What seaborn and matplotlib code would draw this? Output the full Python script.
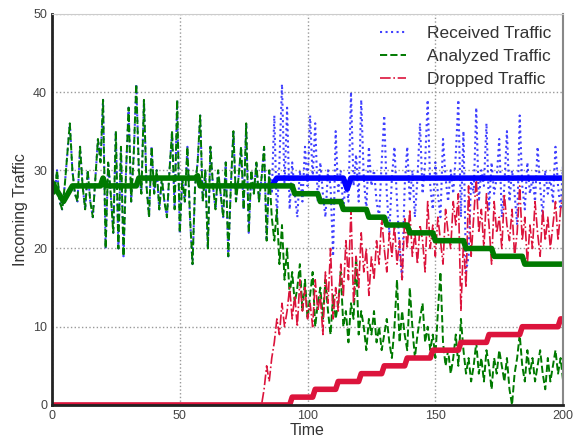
import numpy as np
import pandas as pd
import seaborn as sns
import matplotlib
matplotlib.use("Agg")
import matplotlib.pyplot as plt

# traffic samples, one per time unit (t = 0..200)
received = [29, 27, 30, 26, 25, 28, 32, 36, 30, 27,
            26, 33, 28, 25, 30, 26, 24, 29, 34, 31,
            39, 20, 31, 27, 22, 35, 20, 33, 19, 30,
            38, 26, 32, 41, 30, 27, 39, 28, 24, 33,
            27, 30, 25, 29, 26, 24, 30, 35, 25, 39,
            22, 29, 26, 33, 24, 18, 28, 31, 37, 26,
            30, 20, 33, 28, 25, 30, 27, 24, 31, 19,
            28, 35, 26, 29, 33, 25, 36, 22, 30, 27,
            31, 26, 29, 33, 21, 30, 27, 37, 24, 31,
            41, 28, 38, 25, 31, 27, 24, 30, 26, 33,
            28, 37, 29, 36, 26, 31, 27, 24, 30, 28,
            19, 35, 27, 30, 25, 29, 26, 40, 28, 32,
            26, 39, 29, 25, 33, 28, 30, 26, 24, 31,
            37, 27, 22, 29, 33, 26, 20, 16, 28, 33,
            26, 30, 24, 29, 36, 27, 31, 39, 28, 25,
            31, 27, 24, 34, 29, 26, 30, 27, 32, 39,
            24, 35, 17, 19, 29, 27, 38, 26, 30, 28,
            36, 25, 31, 27, 29, 34, 24, 28, 35, 26,
            30, 27, 23, 37, 28, 25, 31, 27, 29, 26,
            33, 28, 24, 30, 27, 29, 26, 33, 28, 25, 31]

# analyzed traffic follows received until t = 85, then falls away
analyzed_tail = [30, 24, 21, 25, 18, 23, 16, 20, 14, 17,
                 13, 15, 18, 12, 16, 11, 14, 17, 10, 13,
                 15, 11, 16, 12, 9, 14, 11, 13, 17, 10,
                 12, 8, 13, 11, 19, 9, 12, 10, 7, 11,
                 9, 12, 8, 10, 7, 9, 11, 8, 6, 10,
                 16, 8, 12, 9, 7, 15, 10, 6, 9, 11,
                 13, 8, 10, 7, 9, 6, 12, 17, 8, 5,
                 7, 4, 6, 9, 5, 11, 7, 4, 6, 3,
                 5, 8, 4, 6, 3, 7, 5, 2, 6, 4,
                 7, 5, 3, 6, 2, 0, 4, 6, 9, 5,
                 3, 7, 4, 6, 3, 5, 7, 4, 2, 6,
                 3, 5, 7, 4, 6, 3]
analyzed = received[:85] + analyzed_tail

# dropped traffic is zero until t = 83
dropped_tail = [2, 5, 3, 6, 8, 11, 9, 13, 10, 12,
                15, 11, 14, 10, 16, 12, 15, 11, 13, 10,
                16, 12, 14, 9, 17, 13, 20, 11, 15, 12,
                18, 14, 21, 16, 25, 13, 19, 15, 22, 17,
                20, 14, 19, 16, 21, 18, 24, 20, 17, 22,
                19, 23, 18, 21, 16, 24, 20, 25, 19, 22,
                18, 23, 21, 17, 26, 20, 23, 19, 24, 21,
                18, 25, 22, 20, 26, 23, 27, 12, 21, 15,
                28, 19, 24, 29, 22, 25, 20, 27, 23, 18,
                26, 22, 24, 20, 27, 23, 21, 25, 19, 22,
                28, 21, 24, 18, 23, 20, 26, 22, 19, 25,
                21, 24, 20, 23, 26, 21, 25, 27]
dropped = [0] * 83 + dropped_tail

time = list(range(201))

# running averages (thick lines), as breakpoints
# (received average sits under the analyzed one before t = 86)
recv_avg_t = [86, 88, 114, 115.5, 117, 200]
recv_avg_v = [28, 29, 29, 27.6, 29, 29]

anal_avg_t = [0, 4.5, 8, 19, 20, 21, 33, 34, 56, 57, 58, 94, 95, 104, 105,
              113, 114, 123, 124, 130, 131, 139, 140, 149, 150, 161, 162,
              172, 173, 184, 185, 200]
anal_avg_v = [28.5, 26, 28, 28, 29, 28, 28, 29, 29, 29.3, 28, 28, 27, 27, 26,
              26, 25, 25, 24, 24, 23, 23, 22, 22, 21, 21, 20,
              20, 19, 19, 18, 18]

drop_avg_t = [0, 93, 94, 102, 103, 111, 112, 120, 121, 129, 130, 138, 139,
              148, 149, 159, 160, 170, 171, 183, 184, 198, 199, 200]
drop_avg_v = [0, 0, 1, 1, 2, 2, 3, 3, 4, 4, 5, 5, 6,
              6, 7, 7, 8, 8, 9, 9, 10, 10, 11, 11]

sns.set_style("white")
plt.rcParams['font.family'] = ['Liberation Sans', 'DejaVu Sans']

fig = plt.figure(figsize=(5.77, 4.45), dpi=100)
ax = fig.add_axes([0.090, 0.090, 0.886, 0.879])

blue = '#0000ff'
green = '#007a00'
red = '#dc143c'

sns.lineplot(x=time, y=received, ax=ax, color=blue, linestyle=':', lw=1.5,
             alpha=0.75, label='Received Traffic')
sns.lineplot(x=time, y=analyzed, ax=ax, color=green, linestyle='--', lw=1.4,
             label='Analyzed Traffic')
sns.lineplot(x=time, y=dropped, ax=ax, color=red, linestyle='-.', lw=1.2,
             label='Dropped Traffic')

sns.lineplot(x=recv_avg_t, y=recv_avg_v, ax=ax, color=blue, lw=4, legend=False)
sns.lineplot(x=anal_avg_t, y=anal_avg_v, ax=ax, color=green, lw=4, legend=False)
sns.lineplot(x=drop_avg_t, y=drop_avg_v, ax=ax, color=red, lw=4, legend=False)

ax.set_xlim(0, 200)
ax.set_ylim(0, 50)
ax.set_xticks([0, 50, 100, 150, 200])
ax.set_yticks([0, 10, 20, 30, 40, 50])
ax.grid(True, linestyle=':', color='#999999', lw=1)
ax.tick_params(direction='in', length=3, labelsize=9, colors='#444444')

ax.spines['left'].set_color('#222222')
ax.spines['left'].set_linewidth(2)
ax.spines['bottom'].set_color('#222222')
ax.spines['bottom'].set_linewidth(2)
ax.spines['top'].set_color('#cccccc')
ax.spines['right'].set_color('#888888')
ax.spines['right'].set_linewidth(1.5)

ax.set_xlabel('Time', fontsize=11.5, color='#333333', labelpad=1)
ax.set_ylabel('Incoming Traffic', fontsize=11.5, color='#333333', labelpad=4)

leg = ax.legend(loc='upper right', frameon=False, fontsize=12.5,
                handlelength=1.5, handletextpad=1.2, borderaxespad=0.3,
                labelspacing=0.45)
for t in leg.get_texts():
    t.set_color('#333333')

fig.savefig('out.png', dpi=100)
